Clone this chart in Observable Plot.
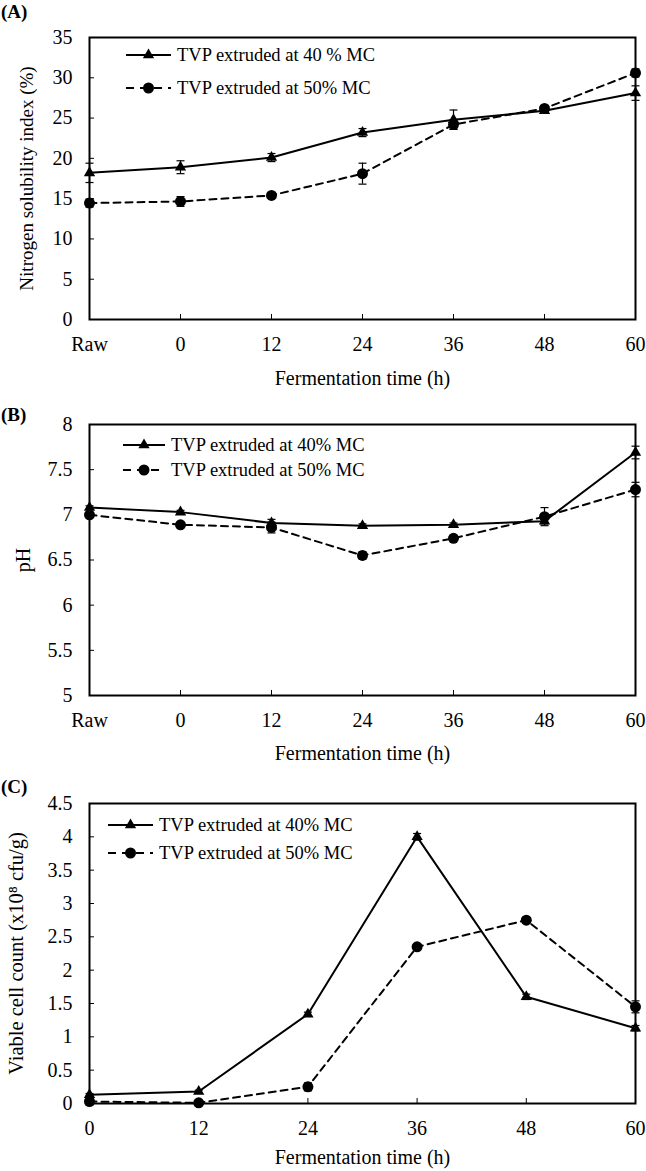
<!DOCTYPE html>
<html>
<head>
<meta charset="utf-8">
<script src="https://cdn.jsdelivr.net/npm/d3@7"></script>
<script src="https://cdn.jsdelivr.net/npm/@observablehq/plot@0.6"></script>
<style>
  body { margin: 0; background: #fff; font-family: "Liberation Serif", "Times New Roman", serif; color: #000; }
  #wrap { position: relative; width: 646px; height: 1171px; overflow: hidden; }
  .panel { position: absolute; left: 0; width: 646px; }
  .plabel { position: absolute; left: 1px; font-weight: bold; font-size: 19px; line-height: 19px; }
  .lrow { position: absolute; height: 22px; display: flex; align-items: center; font-size: 18.5px; white-space: nowrap; }
  .lrow svg { display: block; margin-right: 6px; }
</style>
</head>
<body>
<div id="wrap"></div>
<script>
// ---------- data ----------
const timeLabelsAB = ["Raw", "0", "12", "24", "36", "48", "60"];
const timeC = [0, 12, 24, 36, 48, 60];

// (A) Nitrogen solubility index (%)
const nsi40 = [18.2, 18.9, 20.1, 23.2, 24.8, 25.9, 28.1];
const nsi40Err = [1.2, 0.8, 0.5, 0.5, 1.2, 0.3, 0.9];
const nsi50 = [14.45, 14.65, 15.4, 18.1, 24.2, 26.2, 30.6];
const nsi50Err = [0.5, 0.6, 0.3, 1.3, 0.6, 0.3, 0.5];

// (B) pH
const ph40 = [7.08, 7.03, 6.91, 6.88, 6.89, 6.93, 7.69];
const ph40Err = [0.02, 0.02, 0.04, 0.02, 0.02, 0.03, 0.07];
const ph50 = [7.0, 6.89, 6.86, 6.55, 6.74, 6.98, 7.28];
const ph50Err = [0.02, 0.02, 0.06, 0.04, 0.02, 0.1, 0.08];

// (C) Viable cell count (x10^8 cfu/g)
const vcc40 = [0.13, 0.18, 1.34, 4.0, 1.6, 1.13];
const vcc40Err = [0.02, 0.02, 0.03, 0.05, 0.04, 0.04];
const vcc50 = [0.03, 0.01, 0.25, 2.35, 2.75, 1.45];
const vcc50Err = [0.05, 0.01, 0.06, 0.04, 0.04, 0.09];

const yTicksA = [0, 5, 10, 15, 20, 25, 30, 35];
const yTicksB = [5, 5.5, 6, 6.5, 7, 7.5, 8];
const yTicksC = [0, 0.5, 1, 1.5, 2, 2.5, 3, 3.5, 4, 4.5];

const legendA = ["TVP extruded at 40 % MC", "TVP extruded at 50% MC"];
const legendBC = ["TVP extruded at 40% MC", "TVP extruded at 50% MC"];

// ---------- helpers ----------
const FONT = '"Liberation Serif", "Times New Roman", serif';
const capSymbol = { draw(ctx) { ctx.moveTo(-4, 0); ctx.lineTo(4, 0); } };

function rows(xs, ys, es) { return xs.map((x, i) => ({ x, y: ys[i], e: es[i] })); }

function makePanel(cfg) {
  const r40 = rows(cfg.x, cfg.y40, cfg.e40);
  const r50 = rows(cfg.x, cfg.y50, cfg.e50);
  const all = r40.concat(r50);
  const xScale = cfg.point
    ? { type: "point", domain: cfg.x, padding: 0 }
    : { type: "linear", domain: [cfg.x[0], cfg.x[cfg.x.length - 1]] };
  return Plot.plot({
    width: 646,
    height: cfg.height,
    marginTop: cfg.mt,
    marginBottom: cfg.mb,
    marginLeft: 89,
    marginRight: 11,
    style: { fontFamily: FONT, fontSize: "20px", color: "#000", background: "#fff" },
    x: xScale,
    y: { domain: cfg.yDomain },
    marks: [
      Plot.ruleX(all, { x: "x", y1: d => d.y - d.e, y2: d => d.y + d.e, stroke: "#000", strokeWidth: 1.2 }),
      Plot.dot(all, { x: "x", y: d => d.y - d.e, symbol: capSymbol, r: 3, stroke: "#000", strokeWidth: 1.2 }),
      Plot.dot(all, { x: "x", y: d => d.y + d.e, symbol: capSymbol, r: 3, stroke: "#000", strokeWidth: 1.2 }),
      Plot.line(r40, { x: "x", y: "y", stroke: "#000", strokeWidth: 2 }),
      Plot.line(r50, { x: "x", y: "y", stroke: "#000", strokeWidth: 2, strokeDasharray: "7,5" }),
      Plot.dot(r40, { x: "x", y: "y", symbol: "triangle", r: 4.2, fill: "#000" }),
      Plot.dot(r50, { x: "x", y: "y", symbol: "circle", r: 5.5, fill: "#000" }),
      Plot.frame({ stroke: "#000", strokeWidth: 2 }),
      // tick axes
      Plot.axisX({ ticks: cfg.x, tickFormat: d => String(d), tickSize: -5, tickPadding: 22, label: null, fontSize: 20 }),
      Plot.axisY({ ticks: cfg.yTicks, tickFormat: d => String(d), tickSize: -5, tickPadding: 22, label: null, fontSize: 20 }),
      // title axes
      Plot.axisX({ ticks: [], tickSize: 0, label: "Fermentation time (h)", labelAnchor: "center", labelArrow: "none", labelOffset: cfg.xLabelOffset, fontSize: 20 }),
      Plot.axisY({ ticks: [], tickSize: 0, label: cfg.yLabel, labelAnchor: "center", labelArrow: "none", labelOffset: cfg.yLabelOffset, fontSize: cfg.yLabelSize })
    ]
  });
}

function addLegend(parent, labels, top1, top2, left, swW) {
  const ns = "http://www.w3.org/2000/svg";
  labels.forEach((lab, i) => {
    const row = document.createElement("div");
    row.className = "lrow";
    row.style.left = left + "px";
    row.style.top = ((i === 0 ? top1 : top2) - 11) + "px";
    const s = document.createElementNS(ns, "svg");
    s.setAttribute("width", swW); s.setAttribute("height", 14);
    const line = document.createElementNS(ns, "line");
    line.setAttribute("x1", 0); line.setAttribute("x2", swW);
    line.setAttribute("y1", 7); line.setAttribute("y2", 7);
    line.setAttribute("stroke", "#000"); line.setAttribute("stroke-width", 2);
    if (i === 1) line.setAttribute("stroke-dasharray", "8,6");
    s.appendChild(line);
    const cx = swW / 2;
    if (i === 0) {
      const p = document.createElementNS(ns, "path");
      p.setAttribute("d", d3.symbol(d3.symbolTriangle, Math.PI * 4.2 * 4.2)());
      p.setAttribute("transform", `translate(${cx},7)`);
      p.setAttribute("fill", "#000");
      s.appendChild(p);
    } else {
      const c = document.createElementNS(ns, "circle");
      c.setAttribute("cx", cx); c.setAttribute("cy", 7); c.setAttribute("r", 5.5);
      c.setAttribute("fill", "#000");
      s.appendChild(c);
    }
    row.appendChild(s);
    const t = document.createElement("span");
    t.textContent = lab;
    row.appendChild(t);
    parent.appendChild(row);
  });
}

const wrap = document.getElementById("wrap");

function mount(top, height, labelText, labelTop, plot) {
  const div = document.createElement("div");
  div.className = "panel";
  div.style.top = top + "px";
  div.style.height = height + "px";
  div.appendChild(plot);
  const lab = document.createElement("div");
  lab.className = "plabel";
  lab.style.top = labelTop + "px";
  lab.textContent = labelText;
  div.appendChild(lab);
  wrap.appendChild(div);
  return div;
}

// Panel A
const pA = makePanel({
  x: timeLabelsAB, point: true, y40: nsi40, e40: nsi40Err, y50: nsi50, e50: nsi50Err,
  yDomain: [0, 35], yTicks: yTicksA, height: 390, mt: 37, mb: 71,
  yLabel: "Nitrogen solubility index (%)", yLabelSize: 19, yLabelOffset: 70, xLabelOffset: 65
});
const dA = mount(0, 390, "(A)", 2, pA);
addLegend(dA, legendA, 55, 88, 126, 45);

// Panel B
const pB = makePanel({
  x: timeLabelsAB, point: true, y40: ph40, e40: ph40Err, y50: ph50, e50: ph50Err,
  yDomain: [5, 8], yTicks: yTicksB, height: 375, mt: 34, mb: 70,
  yLabel: "pH", yLabelSize: 20, yLabelOffset: 74, xLabelOffset: 64
});
const dB = mount(390, 375, "(B)", 15, pB);
addLegend(dB, legendBC, 55, 80, 123, 42);

// Panel C
const pC = makePanel({
  x: timeC, point: false, y40: vcc40, e40: vcc40Err, y50: vcc50, e50: vcc50Err,
  yDomain: [0, 4.5], yTicks: yTicksC, height: 406, mt: 38, mb: 68,
  yLabel: "Viable cell count (x10⁸ cfu/g)", yLabelSize: 20.5, yLabelOffset: 81, xLabelOffset: 60
});
const dC = mount(765, 406, "(C)", 12, pC);
addLegend(dC, legendBC, 60, 88, 108, 45);
</script>
</body>
</html>
